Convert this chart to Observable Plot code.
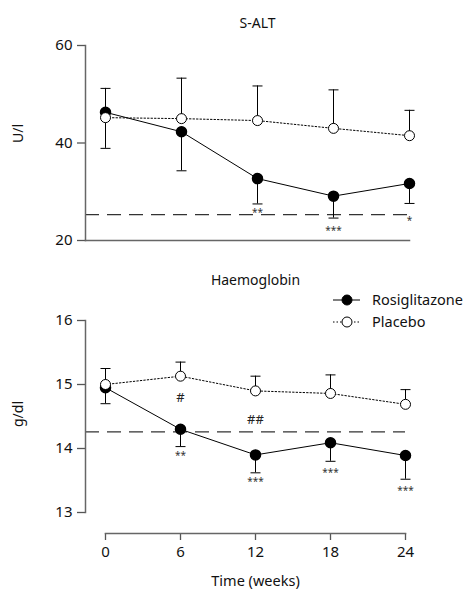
<!DOCTYPE html>
<html><head><meta charset="utf-8">
<script src="https://cdn.jsdelivr.net/npm/d3@7"></script>
<script src="https://cdn.jsdelivr.net/npm/@observablehq/plot@0.6"></script>
<style>
body{margin:0;background:#fff;font-family:"Noto Sans",sans-serif;}
#wrap{position:relative;width:466px;height:596px;overflow:hidden;}
#wrap > svg{position:absolute;left:0;}
</style></head><body><div id="wrap"></div>
<script>
// ---- data ----
const weeks = [0, 6, 12, 18, 24];
const seriesNames = ["Rosiglitazone", "Placebo"];

// S-ALT (U/l)
const altRosi     = [46.3, 42.3, 32.7, 29.1, 31.7];
const altRosiLow  = [38.9, 34.3, 27.5, 24.6, 27.6];
const altPlac     = [45.2, 45.0, 44.6, 43.0, 41.5];
const altPlacHigh = [51.2, 53.3, 51.7, 50.9, 46.7];
const altRef = 25.3;
const altTicks = [20, 40, 60];
const altSigWeeks = [12, 18, 24];
const altSigY     = [26.0, 22.4, 24.5];
const altSigText  = ["**", "***", "*"];
const altHashWeeks = [];
const altHashY = [];
const altHashText = [];

// Haemoglobin (g/dl)
const hbRosi     = [14.95, 14.30, 13.90, 14.09, 13.89];
const hbRosiLow  = [14.70, 14.03, 13.62, 13.80, 13.52];
const hbPlac     = [15.00, 15.13, 14.90, 14.86, 14.69];
const hbPlacHigh = [15.25, 15.35, 15.13, 15.15, 14.92];
const hbRef = 14.26;
const hbTicks = [13, 14, 15, 16];
const hbSigWeeks = [6, 12, 18, 24];
const hbSigY     = [13.91, 13.51, 13.65, 13.37];
const hbSigText  = ["**", "***", "***", "***"];
const hbHashWeeks = [6, 12];
const hbHashY     = [14.79, 14.45];
const hbHashText  = ["#", "##"];

// ---- drawing ----
const FONT = "Noto Sans";
const capSymbol = {draw(ctx, size) { const w = Math.sqrt(size / Math.PI); ctx.moveTo(-w, 0); ctx.lineTo(w, 0); }};
const midWeek = (d3.min(weeks) + d3.max(weeks)) / 2;

function panel(o) {
  const rows = weeks.map((w, i) => ({week: w, rosi: o.rosi[i], rosiLow: o.rosiLow[i], plac: o.plac[i], placHigh: o.placHigh[i]}));
  const sig = o.sigWeeks.map((w, i) => ({week: w, y: o.sigY[i], label: o.sigText[i]}));
  const hash = o.hashWeeks.map((w, i) => ({week: w, y: o.hashY[i], label: o.hashText[i]}));
  const marks = [
    Plot.ruleY([o.ref], {stroke: "#333", strokeWidth: 1.2, strokeDasharray: "14,8"}),
    Plot.ruleX(rows, {x: "week", y1: "rosi", y2: "rosiLow", stroke: "#000", strokeWidth: 1}),
    Plot.ruleX(rows, {x: "week", y1: "plac", y2: "placHigh", stroke: "#000", strokeWidth: 1}),
    Plot.dot(rows, {x: "week", y: "rosiLow", symbol: capSymbol, r: 5, stroke: "#000", strokeWidth: 1}),
    Plot.dot(rows, {x: "week", y: "placHigh", symbol: capSymbol, r: 5, stroke: "#000", strokeWidth: 1}),
    Plot.line(rows, {x: "week", y: "rosi", stroke: "#000", strokeWidth: 1}),
    Plot.line(rows, {x: "week", y: "plac", stroke: "#000", strokeWidth: 1, strokeDasharray: "1.5,2"}),
    Plot.dot(rows, {x: "week", y: "rosi", r: 5, fill: "#000", stroke: "#000"}),
    Plot.dot(rows, {x: "week", y: "plac", r: 5, fill: "#fff", stroke: "#000", strokeWidth: 1}),
    Plot.text(sig, {x: "week", y: "y", text: "label", fontSize: 10, fill: "#333", dy: 2}),
    Plot.text(hash, {x: "week", y: "y", text: "label", fontSize: 13, fill: "#222", letterSpacing: "2px"}),
    Plot.axisY({ticks: o.yTicks, tickFormat: d3.format("d"), tickSize: 8, tickPadding: 5, label: null, stroke: "#555", strokeWidth: 1.3, fill: "#111", fontSize: 15}),
    Plot.frame({anchor: "left", stroke: "#666", strokeWidth: 1.5, insetBottom: o.yInsetBottom}),
    Plot.text([o.title], {x: [midWeek], frameAnchor: "top", dy: o.titleDy, fontSize: 14, fill: "#111"}),
    Plot.text([o.ylabel], {frameAnchor: "left", rotate: -90, dx: -67, fontSize: 14, fill: "#111"})
  ];
  if (o.xAxis) {
    marks.push(Plot.axisX({ticks: weeks, tickFormat: d3.format("d"), tickSize: 7, tickPadding: 6, label: null, stroke: "#555", strokeWidth: 1.3, fill: "#111", fontSize: 15}));
    marks.push(Plot.frame({anchor: "bottom", stroke: "#666", strokeWidth: 1.5, insetLeft: 20}));
    marks.push(Plot.text(["Time (weeks)"], {x: [midWeek], frameAnchor: "bottom", dy: 52, fontSize: 14.5, fill: "#111"}));
  } else {
    marks.push(Plot.frame({anchor: "bottom", stroke: "#666", strokeWidth: 1.5}));
  }
  return Plot.plot({
    width: 466, height: o.height,
    marginLeft: 85, marginRight: o.marginRight, marginTop: o.marginTop, marginBottom: o.marginBottom,
    style: {fontFamily: FONT, fontSize: "14px", background: "transparent", overflow: "visible"},
    x: {type: "linear", domain: [0, 24], insetLeft: 20, axis: null},
    y: {type: "linear", domain: o.yDomain, insetBottom: o.yInsetBottom, axis: null},
    marks
  });
}

const wrap = document.getElementById("wrap");
const top1 = panel({height: 260, marginTop: 45, marginBottom: 20, marginRight: 57, yDomain: [20, 60], yTicks: altTicks, yInsetBottom: 0,
  rosi: altRosi, rosiLow: altRosiLow, plac: altPlac, placHigh: altPlacHigh, ref: altRef,
  sigWeeks: altSigWeeks, sigY: altSigY, sigText: altSigText, hashWeeks: altHashWeeks, hashY: altHashY, hashText: altHashText,
  title: "S-ALT", titleDy: -27, ylabel: "U/l", xAxis: false});
top1.style.top = "0px";
wrap.appendChild(top1);

const bot = panel({height: 336, marginTop: 60, marginBottom: 63, marginRight: 61, yDomain: [13, 16], yTicks: hbTicks, yInsetBottom: 21,
  rosi: hbRosi, rosiLow: hbRosiLow, plac: hbPlac, placHigh: hbPlacHigh, ref: hbRef,
  sigWeeks: hbSigWeeks, sigY: hbSigY, sigText: hbSigText, hashWeeks: hbHashWeeks, hashY: hbHashY, hashText: hbHashText,
  title: "Haemoglobin", titleDy: -45, ylabel: "g/dl", xAxis: true});
bot.style.top = "260px";
wrap.appendChild(bot);

// legend
const leg = d3.create("svg").attr("width", 134).attr("height", 44)
  .style("left", "332px").style("top", "289px")
  .attr("font-family", FONT).attr("font-size", 14.5);
seriesNames.forEach((name, i) => {
  const g = leg.append("g").attr("transform", `translate(0,${11 + i * 22})`);
  g.append("line").attr("x1", 1).attr("x2", 28).attr("stroke", "#000").attr("stroke-width", 1)
    .attr("stroke-dasharray", i ? "1.5,2" : null);
  g.append("circle").attr("cx", 15).attr("r", 5).attr("fill", i ? "#fff" : "#000").attr("stroke", "#000");
  g.append("text").attr("x", 40).attr("dy", "0.35em").attr("fill", "#111").text(name);
});
wrap.appendChild(leg.node());
</script></body></html>
